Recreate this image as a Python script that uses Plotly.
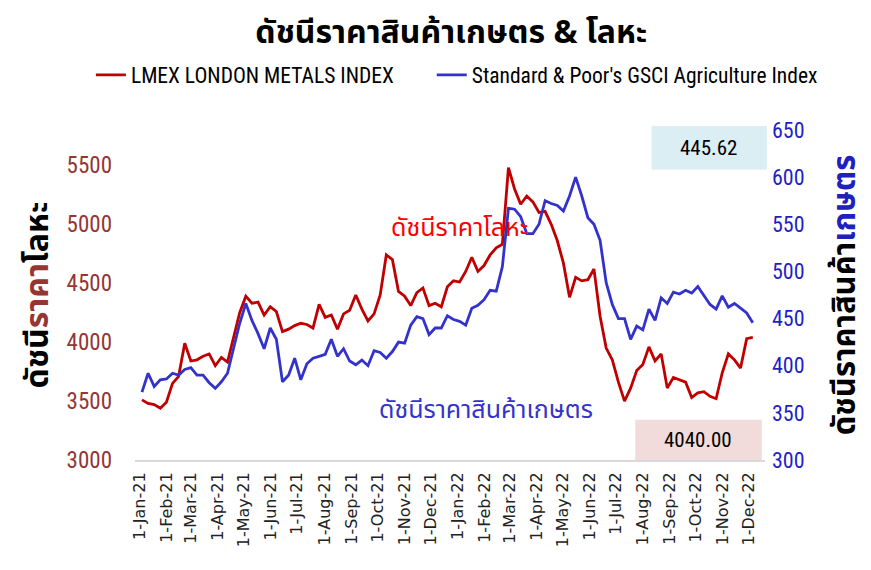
import pandas as pd
import plotly.graph_objs as go

# weekly readings, first Monday of 2021 to early Dec 2022
dates = pd.date_range("2021-01-04", periods=101, freq="7D")

metals = [3510, 3480, 3470, 3440, 3490, 3650, 3710, 3990, 3840, 3850,
          3880, 3900, 3800, 3870, 3830, 4050, 4250, 4390, 4330, 4340,
          4230, 4300, 4260, 4090, 4110, 4140, 4160, 4150, 4120, 4320,
          4210, 4230, 4110, 4240, 4270, 4400, 4280, 4180, 4240, 4400,
          4740, 4700, 4430, 4390, 4310, 4420, 4460, 4310, 4330, 4300,
          4470, 4520, 4510, 4600, 4720, 4600, 4650, 4740, 4800, 4830,
          5480, 5300, 5170, 5240, 5190, 5100, 5110, 5000, 4860, 4670,
          4380, 4550, 4520, 4530, 4620, 4220, 3950, 3850, 3660, 3500,
          3610, 3760, 3810, 3960, 3840, 3900, 3610, 3700, 3680, 3660,
          3530, 3570, 3580, 3540, 3520, 3740, 3900, 3850, 3780, 4030,
          4040.00]

agri = [372, 392, 378, 385, 386, 392, 390, 396, 398, 390,
        390, 382, 376, 383, 392, 420, 445, 466, 448, 434,
        418, 440, 428, 383, 390, 408, 385, 402, 408, 410,
        412, 428, 410, 418, 405, 401, 406, 400, 416, 414,
        408, 415, 425, 424, 443, 452, 450, 433, 440, 440,
        453, 449, 447, 443, 461, 464, 470, 480, 479, 505,
        567, 566, 558, 540, 540, 550, 575, 572, 570, 564,
        580, 600, 580, 557, 550, 533, 488, 465, 450, 450,
        428, 442, 438, 460, 448, 472, 466, 478, 476, 480,
        477, 484, 474, 465, 460, 474, 462, 466, 461, 456,
        445.62]

RED = '#C00000'
BLUE = '#3333CC'
num_font = 'Liberation Sans Narrow, Roboto Condensed, Liberation Sans, sans-serif'
thai_font = 'Noto Sans Thai, Tahoma, Noto Sans, sans-serif'

trace_metal = go.Scatter(
    x=dates, y=metals, mode='lines',
    name='LMEX LONDON METALS INDEX',
    line=dict(color=RED, width=2.8),
    legend='legend'
)

trace_agri = go.Scatter(
    x=dates, y=agri, mode='lines',
    name="Standard & Poor's GSCI Agriculture Index",
    line=dict(color=BLUE, width=2.8),
    yaxis='y2', legend='legend2'
)

legend_font = dict(family=num_font, size=21.5, color='black')

# the page body adds 8px, so margins are set 8px smaller on left/top
layout = go.Layout(
    width=871, height=570,
    paper_bgcolor='white', plot_bgcolor='white',
    margin=dict(l=127, r=114, t=122, b=118, autoexpand=False),
    title=dict(text='<b>ดัชนีราคาสินค้าเกษตร & โลหะ</b>',
               x=0.509, xanchor='center', y=0.958, yanchor='middle',
               font=dict(family=thai_font, size=32, color='black')),
    showlegend=True,
    legend=dict(orientation='h', x=-0.07, y=1.167, xanchor='left', yanchor='middle',
                font=legend_font),
    legend2=dict(orientation='h', x=0.471, y=1.167, xanchor='left', yanchor='middle',
                 font=legend_font),
    xaxis=dict(
        type='date',
        range=['2020-12-27', '2022-12-19'],
        tick0='2021-01-01', dtick='M1',
        tickformat='%-d-%b-%y', tickangle=-90,
        tickfont=dict(family='DejaVu Sans', size=16, color='#222'),
        ticklabelstandoff=4,
        showgrid=False, zeroline=False,
        showline=True, linecolor='#d9d9d9', linewidth=2,
        ticks=''
    ),
    yaxis=dict(
        range=[3000, 5800], tickvals=[3000, 3500, 4000, 4500, 5000, 5500],
        tickfont=dict(family=num_font, size=23, color='#943634'),
        showgrid=False, zeroline=False, showline=False,
        ticklabelstandoff=22,
        title=dict(text="<b>ดัชนี<span style='color:#943634'>ราคา</span>โลหะ</b>",
                   font=dict(family=thai_font, size=32, color='black'),
                   standoff=8)
    ),
    yaxis2=dict(
        overlaying='y', side='right',
        range=[300, 650], tickvals=[300, 350, 400, 450, 500, 550, 600, 650],
        tickfont=dict(family=num_font, size=22, color='#1F1FC8'),
        showgrid=False, zeroline=False, showline=False,
        ticklabelstandoff=6,
        title=dict(text="<b>ดัชนีราคาสินค้า<span style='color:#2020C0'>เกษตร</span></b>",
                   font=dict(family=thai_font, size=31, color='black'),
                   standoff=29)
    ),
    shapes=[
        dict(type='rect', xref='paper', yref='paper', x0=0.82, x1=1.003, y0=0.88, y1=1.012,
             fillcolor='#DAEEF3', line=dict(width=0), layer='below'),
        dict(type='rect', xref='paper', yref='paper', x0=0.794, x1=0.995, y0=0.0, y1=0.122,
             fillcolor='#F2DCDB', line=dict(width=0), layer='below'),
    ],
    annotations=[
        dict(xref='paper', yref='paper', x=0.91, y=0.945, xanchor='center', yanchor='middle',
             text='445.62', showarrow=False,
             font=dict(family=num_font, size=21, color='black')),
        dict(xref='paper', yref='paper', x=0.893, y=0.06, xanchor='center', yanchor='middle',
             text='4040.00', showarrow=False,
             font=dict(family=num_font, size=21, color='black')),
        dict(xref='paper', yref='paper', x=0.515, y=0.703, xanchor='center', yanchor='middle',
             text='ดัชนีราคาโลหะ', showarrow=False,
             font=dict(family=thai_font, size=25, color='#FF0000')),
        dict(xref='paper', yref='paper', x=0.557, y=0.152, xanchor='center', yanchor='middle',
             text='ดัชนีราคาสินค้าเกษตร', showarrow=False,
             font=dict(family=thai_font, size=25, color=BLUE)),
    ]
)

fig = go.Figure(data=[trace_metal, trace_agri], layout=layout)
fig.write_html("out.html")
